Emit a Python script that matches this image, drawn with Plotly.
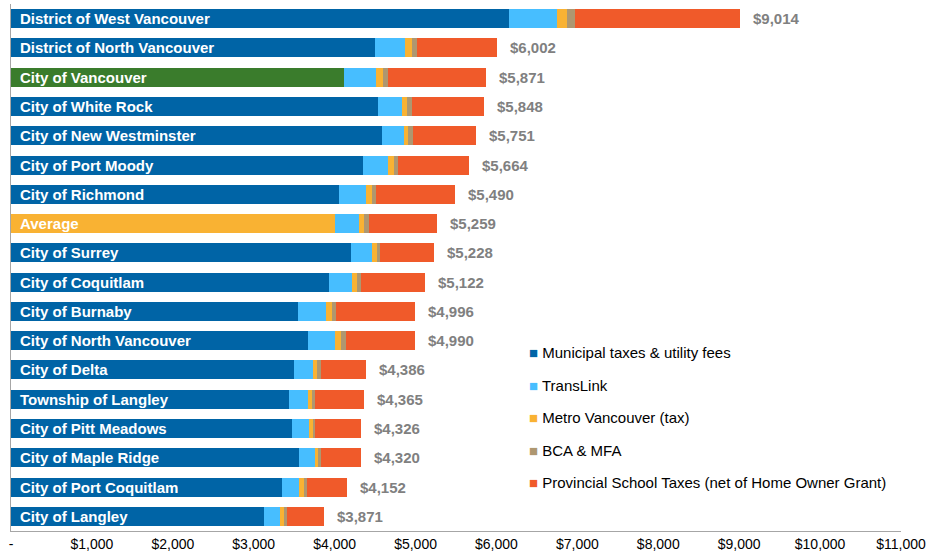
import plotly.graph_objects as go

# Municipalities, top to bottom
municipalities = [
    "District of West Vancouver", "District of North Vancouver", "City of Vancouver",
    "City of White Rock", "City of New Westminster", "City of Port Moody",
    "City of Richmond", "Average", "City of Surrey", "City of Coquitlam",
    "City of Burnaby", "City of North Vancouver", "City of Delta",
    "Township of Langley", "City of Pitt Meadows", "City of Maple Ridge",
    "City of Port Coquitlam", "City of Langley",
]

# Components of the typical residential property tax bill ($)
municipal = [6156, 4499, 4120, 4540, 4590, 4355, 4054, 4009, 4206, 3931,
             3548, 3667, 3498, 3440, 3473, 3560, 3346, 3127]
translink = [593, 371, 392, 297, 264, 305, 334, 296, 260, 284,
             346, 342, 235, 227, 211, 198, 218, 202]
metro_van = [124, 83, 83, 62, 57, 71, 71, 62, 54, 62,
             70, 70, 46, 54, 45, 41, 54, 42]
bca_mfa = [99, 62, 69, 54, 54, 49, 53, 58, 37, 49,
           57, 58, 49, 40, 32, 29, 37, 41]
school = [2042, 987, 1207, 895, 786, 884, 978, 834, 671, 796,
          975, 853, 558, 604, 565, 492, 497, 459]

series_names = [
    "Municipal taxes & utility fees",
    "TransLink",
    "Metro Vancouver (tax)",
    "BCA & MFA",
    "Provincial School Taxes (net of Home Owner Grant)",
]
series_values = [municipal, translink, metro_van, bca_mfa, school]
series_colors = ["#0064A6", "#47BEFF", "#F9B233", "#AE9770", "#F05A2A"]

axis_ticks = [0, 1000, 2000, 3000, 4000, 5000, 6000, 7000, 8000, 9000, 10000, 11000]
axis_labels = ["-", "$1,000", "$2,000", "$3,000", "$4,000", "$5,000", "$6,000",
               "$7,000", "$8,000", "$9,000", "$10,000", "$11,000"]

# Municipal segment is highlighted for Vancouver and the regional average
highlight = {"City of Vancouver": "#3A7C2C", "Average": "#F9B233"}

FONT = "Liberation Sans, Arial, sans-serif"

fig = go.Figure()
for i, (name, vals, col) in enumerate(zip(series_names, series_values, series_colors)):
    colors = [highlight.get(m, col) if i == 0 else col for m in municipalities]
    fig.add_trace(go.Bar(
        y=municipalities, x=vals, orientation="h", name=name,
        marker=dict(color=colors, line=dict(width=0)),
        showlegend=False, hoverinfo="x+name",
    ))
    # legend entry: small coloured square drawn in the label itself
    fig.add_trace(go.Scatter(
        x=[None], y=[None], mode="markers",
        name=f"<span style='color:{col};font-size:15px'>■</span> {name}",
        marker=dict(symbol="square", size=1, color="rgba(0,0,0,0)"),
        legendgroup=name, showlegend=True,
    ))

totals = [sum(parts) for parts in zip(*series_values)]

annotations = []
for m, t in zip(municipalities, totals):
    annotations.append(dict(
        x=t, y=m, xref="x", yref="y", text=f"<b>${t:,}</b>",
        showarrow=False, xanchor="left", xshift=11,
        font=dict(family=FONT, size=15, color="#808080"),
    ))
    annotations.append(dict(
        x=0, y=m, xref="x", yref="y", text=f"<b>{m}</b>",
        showarrow=False, xanchor="left", xshift=7,
        font=dict(family=FONT, size=15, color="white"),
    ))

fig.update_layout(
    barmode="stack",
    bargap=0.35,
    width=930, height=556,
    margin=dict(l=11, r=29, t=4, b=25, pad=0),
    paper_bgcolor="white", plot_bgcolor="white",
    font=dict(family=FONT, size=14, color="#000000"),
    annotations=annotations,
    legend=dict(
        x=(529 - 40 - 11) / 890, y=(531 - 336) / 527, xanchor="left", yanchor="top",
        font=dict(family=FONT, size=15, color="#000000"),
        tracegroupgap=10, itemwidth=30, bgcolor="rgba(0,0,0,0)",
    ),
    xaxis=dict(
        range=[0, 11000], tickvals=axis_ticks, ticktext=axis_labels,
        showgrid=False, zeroline=False, showline=True, linecolor="#A6A6A6",
        linewidth=1, ticks="", tickfont=dict(family=FONT, size=14, color="#000000"),
        fixedrange=True,
    ),
    yaxis=dict(
        categoryorder="array", categoryarray=municipalities, autorange="reversed",
        showticklabels=False, showgrid=False, zeroline=False,
        showline=True, linecolor="#A6A6A6", linewidth=1, ticks="",
        fixedrange=True,
    ),
)

fig.write_html("out.html")
